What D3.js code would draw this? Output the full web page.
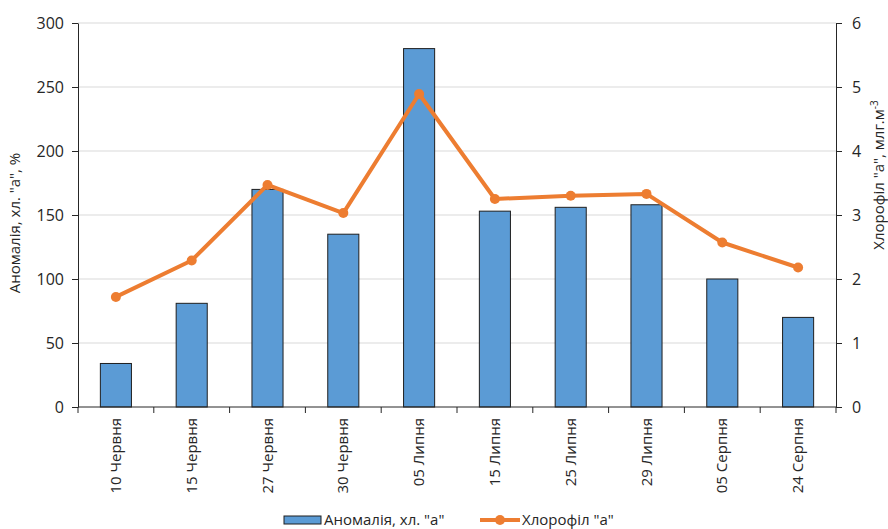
<!DOCTYPE html>
<html lang="uk">
<head>
  <meta charset="UTF-8">
  <title>Аномалія та хлорофіл "а"</title>
  <script src="https://d3js.org/d3.v7.min.js"></script>
  <style>
    body, html {
      margin: 0;
      padding: 0;
      background: #fff;
      font-family: 'Open Sans', 'DejaVu Sans', sans-serif;
    }
    svg { display: block; }
    .grid line { stroke: #d9d9d9; stroke-width: 1; }
    .axis path, .axis line { stroke: #262626; }
    .axis text { font-size: 15px; fill: #262626; font-family: 'Open Sans', sans-serif; }
    .yaxis text { font-size: 16px; }
    .title { font-size: 15px; fill: #262626; }
  </style>
</head>
<body>
  <svg width="888" height="529"></svg>

  <script>
    // chart data
    const dates = ["10 Червня", "15 Червня", "27 Червня", "30 Червня", "05 Липня",
                   "15 Липня", "25 Липня", "29 Липня", "05 Серпня", "24 Серпня"];
    const anomaly = [34, 81, 170, 135, 280, 153, 156, 158, 100, 70];
    const chlorophyll = [1.72, 2.29, 3.47, 3.03, 4.89, 3.25, 3.30, 3.33, 2.57, 2.18];
    const leftTicks = [0, 50, 100, 150, 200, 250, 300];
    const rightTicks = [0, 1, 2, 3, 4, 5, 6];

    const margin = {top: 23, right: 52, bottom: 122, left: 78},
          width  = 888 - margin.left - margin.right,
          height = 529 - margin.top - margin.bottom;

    const svg = d3.select("svg")
      .append("g")
      .attr("transform", `translate(${margin.left},${margin.top})`);

    const x = d3.scaleBand().domain(dates).range([0, width]).paddingInner(0.59).paddingOuter(0.295);
    const xc = d3.scaleBand().domain(dates).range([0, width]);
    const yL = d3.scaleLinear().domain([0, 300]).range([height, 0]);
    const yR = d3.scaleLinear().domain([0, 6]).range([height, 0]);

    // gridlines
    svg.append("g").attr("class", "grid")
      .selectAll("line")
      .data(leftTicks.slice(1))
      .enter().append("line")
        .attr("x1", 0).attr("x2", width)
        .attr("y1", d => yL(d)).attr("y2", d => yL(d));

    // bars
    svg.selectAll("rect.bar")
      .data(anomaly)
      .enter().append("rect")
        .attr("class", "bar")
        .attr("x", (d, i) => x(dates[i]))
        .attr("y", d => yL(d))
        .attr("width", x.bandwidth())
        .attr("height", d => height - yL(d))
        .attr("fill", "#5b9bd5")
        .attr("stroke", "#1f1f1f")
        .attr("stroke-width", 1);

    // line
    const line = d3.line()
      .x((d, i) => xc(dates[i]) + xc.bandwidth() / 2)
      .y(d => yR(d));

    svg.append("path")
      .datum(chlorophyll)
      .attr("fill", "none")
      .attr("stroke", "#ed7d31")
      .attr("stroke-width", 4)
      .attr("stroke-linejoin", "round")
      .attr("d", line);

    svg.selectAll("circle.pt")
      .data(chlorophyll)
      .enter().append("circle")
        .attr("class", "pt")
        .attr("cx", (d, i) => xc(dates[i]) + xc.bandwidth() / 2)
        .attr("cy", d => yR(d))
        .attr("r", 5)
        .attr("fill", "#ed7d31");

    // axes
    svg.append("g").attr("class", "axis yaxis")
      .call(d3.axisLeft(yL).tickValues(leftTicks).tickSize(6).tickPadding(8).tickSizeOuter(0));

    svg.append("g").attr("class", "axis yaxis")
      .attr("transform", `translate(${width},0)`)
      .call(d3.axisRight(yR).tickValues(rightTicks).tickFormat(d3.format("d"))
        .tickSize(6).tickPadding(10).tickSizeOuter(0));

    // x axis with ticks between categories
    const xAxisG = svg.append("g").attr("class", "axis")
      .attr("transform", `translate(0,${height})`);
    xAxisG.append("line")
      .attr("x1", 0).attr("x2", width)
      .attr("stroke", "#262626");
    xAxisG.selectAll("line.tk")
      .data(d3.range(dates.length + 1))
      .enter().append("line")
        .attr("class", "tk")
        .attr("x1", i => i * xc.step()).attr("x2", i => i * xc.step())
        .attr("y1", 0).attr("y2", 6)
        .attr("stroke", "#262626");
    xAxisG.selectAll("text")
      .data(dates)
      .enter().append("text")
        .attr("transform", d => `translate(${xc(d) + xc.bandwidth() / 2 + 5},11) rotate(-90)`)
        .attr("text-anchor", "end")
        .text(d => d);

    // axis titles
    svg.append("text").attr("class", "title")
      .attr("transform", `translate(${-58},${223 - margin.top}) rotate(-90)`)
      .attr("text-anchor", "middle")
      .text('Аномалія, хл. "а", %');

    const rt = svg.append("text").attr("class", "title")
      .attr("transform", `translate(${width + 48},${175 - margin.top}) rotate(-90)`)
      .attr("text-anchor", "middle");
    rt.append("tspan").text('Хлорофіл "а", млг.м');
    rt.append("tspan").attr("dy", -6).attr("font-size", "10px").text("-3");

    // legend
    const lg = d3.select("svg").append("g").attr("class", "legend");
    lg.append("rect")
      .attr("x", 284).attr("y", 516).attr("width", 37).attr("height", 8)
      .attr("fill", "#5b9bd5").attr("stroke", "#1f1f1f");
    lg.append("text").attr("class", "title")
      .attr("x", 324).attr("y", 525).text('Аномалія, хл. "а"');
    lg.append("line")
      .attr("x1", 480).attr("x2", 520).attr("y1", 520).attr("y2", 520)
      .attr("stroke", "#ed7d31").attr("stroke-width", 4);
    lg.append("circle")
      .attr("cx", 500).attr("cy", 520).attr("r", 5).attr("fill", "#ed7d31");
    lg.append("text").attr("class", "title")
      .attr("x", 522).attr("y", 525).text('Хлорофіл "а"');
  </script>
</body>
</html>
